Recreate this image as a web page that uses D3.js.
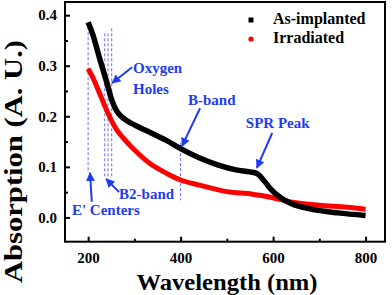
<!DOCTYPE html>
<html><head><meta charset="utf-8">
<script src="https://cdn.jsdelivr.net/npm/d3@7"></script>
<style>body{margin:0;background:#fff}svg{display:block}svg text{font-family:"Liberation Serif","Times New Roman","Liberation Sans",Arial,sans-serif;font-weight:bold}</style>
</head><body>
<svg id="c" width="392" height="295"></svg>
<script>
const seriesNames = ["As-implanted", "Irradiated"];
const seriesColors = ["#000000", "#ff0000"];
const asImplantedWl = [200,210,225,240,252,262,275,300,330,370,400,440,480,520,550,565,580,595,615,640,680,740,800];
const asImplantedAbs = [0.386,0.362,0.314,0.268,0.230,0.210,0.197,0.183,0.170,0.152,0.136,0.118,0.104,0.094,0.090,0.087,0.073,0.056,0.040,0.027,0.017,0.009,0.004];
const irradiatedWl = [200,210,225,240,258,283,310,333,370,400,440,500,555,590,635,700,760,800];
const irradiatedAbs = [0.294,0.277,0.245,0.212,0.179,0.150,0.125,0.107,0.087,0.074,0.064,0.051,0.046,0.041,0.031,0.024,0.020,0.016];
const xTicks = [200,400,600,800];
const xMinor = [300,500,700];
const yTicks = [0.0,0.1,0.2,0.3,0.4];
const yMinor = [0.05,0.15,0.25,0.35];
// annotations (data coordinates)
const markerLines = [[200,0.386,0.088],[236,0.364,0.078],[243,0.364,0.078],[251,0.374,0.078],[400,0.147,0.034]];
const labels = [["Oxygen",297,0.286],["Holes",297,0.244],["B-band",416,0.222],["SPR Peak",541,0.177],["B2-band",267,0.036],["E' Centers",165,0.005]];
const arrows = [[295,0.297,252,0.266],[442,0.216,403,0.141],[598,0.167,565,0.098],[267,0.050,239,0.076],[208,0.031,204,0.088]];

const W=392,H=295, m={l:65,t:2,r:7,b:53.3};
const svg=d3.select("#c");
const x=d3.scaleLinear([150,842],[m.l,W-m.r]);
const y=d3.scaleLinear([-0.048,0.426],[H-m.b,m.t]);
const blue="#1f3cf0";

const gx=svg.append("g").attr("transform",`translate(0,${H-m.b})`)
  .call(d3.axisBottom(x).tickValues(xTicks).tickSizeInner(-5).tickSizeOuter(0).tickPadding(11));
svg.append("g").attr("transform",`translate(0,${H-m.b})`)
  .call(d3.axisBottom(x).tickValues(xMinor).tickSizeInner(-3).tickSizeOuter(0).tickFormat(""));
const gy=svg.append("g").attr("transform",`translate(${m.l},0)`)
  .call(d3.axisLeft(y).tickValues(yTicks).tickFormat(d3.format(".1f")).tickSizeInner(-5).tickSizeOuter(0).tickPadding(8));
svg.append("g").attr("transform",`translate(${m.l},0)`)
  .call(d3.axisLeft(y).tickValues(yMinor).tickSizeInner(-3).tickSizeOuter(0).tickFormat(""));
svg.selectAll(".tick line").attr("stroke","#000").attr("stroke-width",2);
svg.selectAll(".domain").remove();
svg.selectAll("g[font-family]").attr("font-family",null);
svg.selectAll(".tick text").attr("font-size",15).attr("fill","#000");
gx.selectAll(".tick text").attr("dy","0.71em");

svg.append("rect").attr("x",m.l).attr("y",m.t).attr("width",W-m.r-m.l).attr("height",H-m.b-m.t)
  .attr("fill","none").attr("stroke","#000").attr("stroke-width",2);

svg.append("g").selectAll("line").data(markerLines).join("line")
  .attr("x1",d=>x(d[0])).attr("x2",d=>x(d[0])).attr("y1",d=>y(d[1])).attr("y2",d=>y(d[2]))
  .attr("stroke","#6a6af0").attr("stroke-width",1).attr("stroke-dasharray","3,2");

const line=d3.line().curve(d3.curveMonotoneX).x(d=>x(d[0])).y(d=>y(d[1]));
const irr=irradiatedWl.map((w,i)=>[w,irradiatedAbs[i]]);
const asi=asImplantedWl.map((w,i)=>[w,asImplantedAbs[i]]);
svg.append("path").datum(irr).attr("d",line).attr("fill","none").attr("stroke",seriesColors[1]).attr("stroke-width",5);
svg.append("path").datum(asi).attr("d",line).attr("fill","none").attr("stroke",seriesColors[0]).attr("stroke-width",5.5);

const defs=svg.append("defs");
defs.append("marker").attr("id","ah").attr("viewBox","0 0 10 10").attr("refX",9).attr("refY",5)
  .attr("markerWidth",4.5).attr("markerHeight",4.5).attr("markerUnits","strokeWidth").attr("orient","auto")
  .append("path").attr("d","M0,0L10,5L0,10z").attr("fill",blue);
svg.append("g").selectAll("line").data(arrows).join("line")
  .attr("x1",d=>x(d[0])).attr("y1",d=>y(d[1])).attr("x2",d=>x(d[2])).attr("y2",d=>y(d[3]))
  .attr("stroke",blue).attr("stroke-width",2).attr("marker-end","url(#ah)");

svg.append("g").selectAll("text").data(labels).join("text")
  .attr("x",d=>x(d[1])).attr("y",d=>y(d[2])).text(d=>d[0])
  .attr("font-size",15).attr("fill",blue);

const lg=svg.append("g");
lg.append("rect").attr("x",248.5).attr("y",17.5).attr("width",5).attr("height",5).attr("fill",seriesColors[0]);
lg.append("circle").attr("cx",251).attr("cy",39).attr("r",2.6).attr("fill",seriesColors[1]);
lg.selectAll("text").data(seriesNames).join("text")
  .attr("x",273).attr("y",(d,i)=>24+i*19).text(d=>d)
  .attr("font-size",16).attr("fill","#000");

svg.append("text").attr("x",(m.l+W-m.r)/2+2).attr("y",290).attr("text-anchor","middle")
  .attr("font-size",23).attr("textLength",181).attr("lengthAdjust","spacingAndGlyphs").text("Wavelength (nm)");
svg.append("text").attr("transform",`translate(22,${(40+283)/2}) rotate(-90)`).attr("text-anchor","middle")
  .attr("font-size",25).attr("textLength",243).attr("lengthAdjust","spacingAndGlyphs").text("Absorption (A. U.)");
</script>
</body></html>
